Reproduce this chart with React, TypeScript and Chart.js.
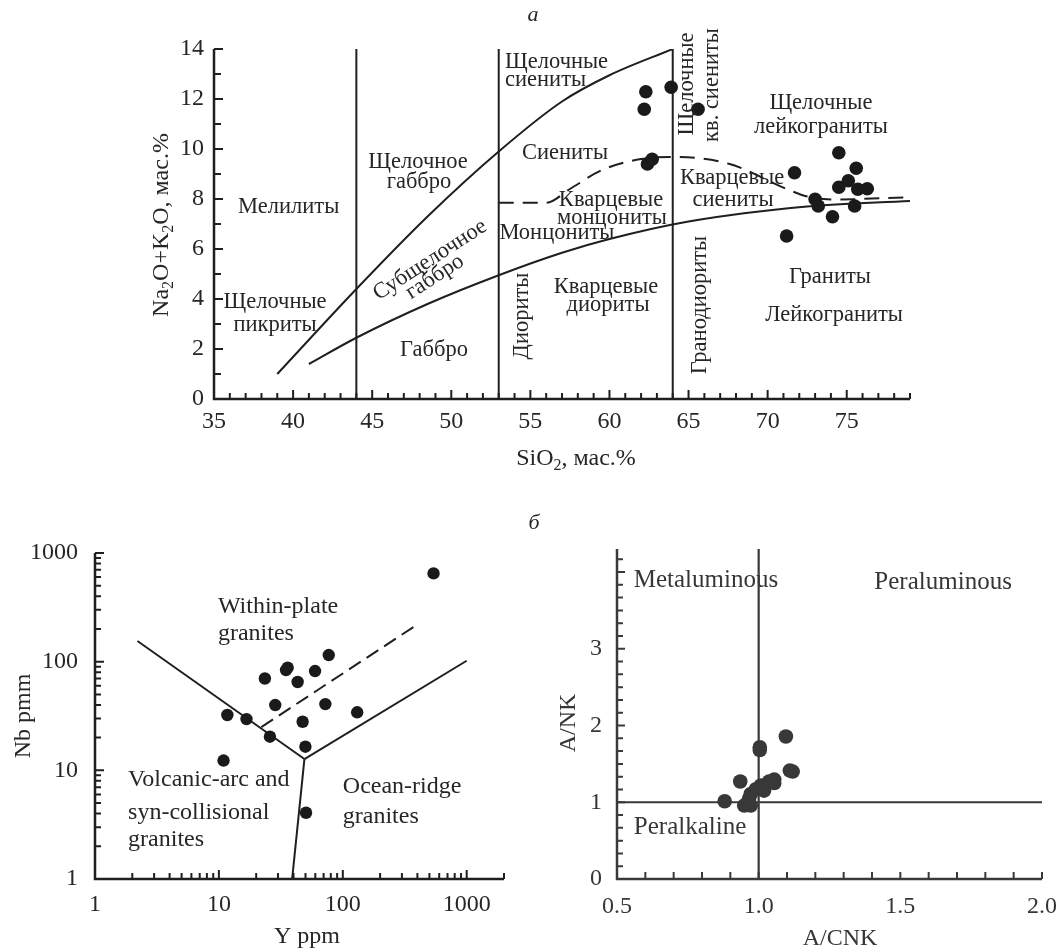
import React, { useEffect, useRef } from "react";
import { Chart, registerables } from "chart.js";

Chart.register(...registerables);

const SERIF = "'Liberation Serif', 'Times New Roman', 'DejaVu Serif', serif";
const INK = "#1f1f1f";
const TEXT = "#262626";

// ---------------- Chart а : TAS (SiO2 vs Na2O+K2O) ----------------
const tasSiO2 = [62.3, 62.2, 63.9, 65.6, 62.7, 62.4, 74.5, 75.6, 71.7, 75.1, 74.5, 75.7, 76.3, 73.0, 73.2, 75.5, 74.1, 71.2];
const tasAlkali = [12.29, 11.59, 12.47, 11.59, 9.59, 9.4, 9.85, 9.23, 9.05, 8.73, 8.47, 8.39, 8.41, 7.99, 7.72, 7.72, 7.29, 6.52];

const alkBoundSiO2 = [39, 44, 48.5, 53, 57, 60, 64];
const alkBoundAlk = [1, 4.4, 7.3, 9.9, 11.9, 12.95, 14];
const subalkBoundSiO2 = [41, 44, 48.5, 53, 57, 60, 65, 72.5, 79];
const subalkBoundAlk = [1.4, 2.45, 3.8, 4.95, 5.85, 6.4, 7.1, 7.7, 7.92];
const quartzBoundSiO2 = [53, 56, 57.5, 59.5, 62, 64, 67.6, 71.2, 72.5, 74, 79];
const quartzBoundAlk = [7.85, 7.85, 8.4, 9.15, 9.6, 9.68, 9.4, 8.4, 8.1, 7.98, 8.07];
const tasDividerSiO2 = [44, 53, 64];
const tasXLabels = [35, 40, 45, 50, 55, 60, 65, 70, 75];
const tasYLabels = [0, 2, 4, 6, 8, 10, 12, 14];

const tasFields = [
  { text: "Мелилиты", x: 39.72, y: 7.69 },
  { text: "Щелочное", x: 47.9, y: 9.48 },
  { text: "габбро", x: 47.96, y: 8.68 },
  { text: "Щелочные", x: 53.4, y: 13.48, align: "left" },
  { text: "сиениты", x: 53.4, y: 12.76, align: "left" },
  { text: "Сиениты", x: 57.19, y: 9.84 },
  { text: "Кварцевые", x: 60.1, y: 7.96 },
  { text: "монцониты", x: 60.16, y: 7.24 },
  { text: "Монцониты", x: 56.68, y: 6.64 },
  { text: "Щелочные", x: 38.86, y: 3.88 },
  { text: "пикриты", x: 38.86, y: 2.96 },
  { text: "Габбро", x: 48.91, y: 1.96 },
  { text: "Диориты", x: 54.47, y: 3.32, rot: -90 },
  { text: "Кварцевые", x: 59.78, y: 4.48 },
  { text: "диориты", x: 59.91, y: 3.76 },
  { text: "Субщелочное", x: 48.66, y: 5.56, rot: -33 },
  { text: "габбро", x: 48.97, y: 4.88, rot: -33 },
  { text: "Щелочные", x: 64.9, y: 12.6, rot: -90 },
  { text: "кв. сиениты", x: 66.48, y: 12.56, rot: -90 },
  { text: "Щелочные", x: 73.37, y: 11.84 },
  { text: "лейкограниты", x: 73.37, y: 10.88 },
  { text: "Кварцевые", x: 67.75, y: 8.84 },
  { text: "сиениты", x: 67.81, y: 7.96 },
  { text: "Гранодиориты", x: 65.72, y: 3.76, rot: -90 },
  { text: "Граниты", x: 73.94, y: 4.88 },
  { text: "Лейкограниты", x: 74.2, y: 3.36 },
];

// ---------------- Chart б (left) : Y vs Nb ----------------
const yPpm = [540, 77, 35.9, 34.8, 59.7, 23.5, 43.2, 28.5, 72.3, 130.6, 11.7, 16.7, 47.4, 25.8, 49.9, 10.9, 50.5];
const nbPpm = [649, 115, 88, 83.6, 82, 70, 65, 39.9, 40.7, 34.2, 32.3, 29.6, 28, 20.4, 16.5, 12.3, 4.07];
const vagWpgY = [2.2, 49];
const vagWpgNb = [155, 12.7];
const orgY = [49, 1000];
const orgNb = [12.7, 102];
const vagOrgY = [49, 39];
const vagOrgNb = [12.7, 1];
const wpgDashY = [22, 385];
const wpgDashNb = [25, 214];
const logLabels = [1, 10, 100, 1000];

const pearceFields = [
  { text: "Within-plate", x: 9.82, y: 318, align: "left" },
  { text: "granites", x: 9.82, y: 179.5, align: "left" },
  { text: "Volcanic-arc and", x: 1.85, y: 8.15, align: "left" },
  { text: "syn-collisional", x: 1.85, y: 4.05, align: "left" },
  { text: "granites", x: 1.85, y: 2.28, align: "left" },
  { text: "Ocean-ridge", x: 100, y: 7.02, align: "left" },
  { text: "granites", x: 100, y: 3.72, align: "left" },
];

// ---------------- Chart б (right) : A/CNK vs A/NK ----------------
const aCnk = [1.096, 1.004, 1.004, 1.11, 1.12, 0.935, 1.055, 1.055, 1.037, 1.008, 1.019, 0.99, 0.972, 0.966, 0.88, 0.949, 0.972];
const aNk = [1.857, 1.717, 1.68, 1.413, 1.4, 1.27, 1.296, 1.25, 1.27, 1.218, 1.152, 1.17, 1.108, 1.043, 1.013, 0.957, 0.957];
const shandVertX = [1, 1];
const shandVertY = [0, 4.3];
const shandHorX = [0.5, 2.0];
const shandHorY = [1, 1];
const shandXLabels = [0.5, 1.0, 1.5, 2.0];
const shandYLabels = [0, 1, 2, 3];

const shandFields = [
  { text: "Metaluminous", x: 0.814, y: 3.885 },
  { text: "Peraluminous", x: 1.651, y: 3.87 },
  { text: "Peralkaline", x: 0.758, y: 0.678 },
];

type Ann = { text: string; x: number; y: number; align?: string; rot?: number };
type Part = { t: string; sub?: boolean };
type TitleSpec = { parts: Part[]; x: number; y: number; rot: number; size: number };

const pts = (xs: number[], ys: number[]) => xs.map((x, i) => ({ x, y: ys[i] }));

function lineDs(xs: number[], ys: number[], dash: number[] = [], curve = false, color = INK, width = 2) {
  return {
    type: "line" as const,
    data: pts(xs, ys),
    borderColor: color,
    borderWidth: width,
    borderDash: dash,
    pointRadius: 0,
    fill: false,
    cubicInterpolationMode: curve ? ("monotone" as const) : ("default" as const),
    tension: 0,
  };
}

function drawRich(ctx: CanvasRenderingContext2D, t: TitleSpec, color: string) {
  ctx.save();
  ctx.translate(t.x, t.y);
  ctx.rotate((t.rot * Math.PI) / 180);
  ctx.fillStyle = color;
  ctx.textBaseline = "alphabetic";
  ctx.textAlign = "left";
  const subSize = Math.round(t.size * 0.68);
  let total = 0;
  for (const p of t.parts) {
    ctx.font = `${p.sub ? subSize : t.size}px ${SERIF}`;
    total += ctx.measureText(p.t).width;
  }
  let cx = -total / 2;
  const base = t.size * 0.33;
  for (const p of t.parts) {
    ctx.font = `${p.sub ? subSize : t.size}px ${SERIF}`;
    ctx.fillText(p.t, cx, base + (p.sub ? t.size * 0.22 : 0));
    cx += ctx.measureText(p.t).width;
  }
  ctx.restore();
}

type Spec = {
  W: number;
  H: number;
  area: { left: number; top: number; right: number; bottom: number };
  x: any;
  y: any;
  xLabels: number[];
  yLabels: number[];
  fmtX: (v: number) => string;
  fmtY: (v: number) => string;
  xMinor: { v: number; len: number }[];
  yMinor: { v: number; len: number }[];
  datasets: any[];
  anns: Ann[];
  annSize: number;
  titles: TitleSpec[];
  tickSize: number;
  xPad: number;
  yPad: number;
  axisColor: string;
  textColor: string;
};

function makeChart(canvas: HTMLCanvasElement, s: Spec) {
  const decor = {
    id: "decor",
    afterDraw(chart: any) {
      const ctx: CanvasRenderingContext2D = chart.ctx;
      const xs = chart.scales.x;
      const ys = chart.scales.y;
      const ca = chart.chartArea;
      ctx.save();
      ctx.strokeStyle = s.axisColor;
      ctx.lineWidth = 2.5;
      ctx.lineJoin = "miter";
      ctx.beginPath();
      ctx.moveTo(ca.left, ca.top);
      ctx.lineTo(ca.left, ca.bottom);
      ctx.lineTo(ca.right, ca.bottom);
      ctx.stroke();
      ctx.lineWidth = 2;
      ctx.beginPath();
      for (const t of s.xMinor) {
        const px = xs.getPixelForValue(t.v);
        ctx.moveTo(px, ca.bottom);
        ctx.lineTo(px, ca.bottom - t.len);
      }
      for (const t of s.yMinor) {
        const py = ys.getPixelForValue(t.v);
        ctx.moveTo(ca.left, py);
        ctx.lineTo(ca.left + t.len, py);
      }
      ctx.stroke();
      ctx.fillStyle = s.textColor;
      for (const a of s.anns) {
        ctx.save();
        ctx.translate(xs.getPixelForValue(a.x), ys.getPixelForValue(a.y));
        ctx.rotate(((a.rot || 0) * Math.PI) / 180);
        ctx.font = `${s.annSize}px ${SERIF}`;
        ctx.textAlign = (a.align || "center") as CanvasTextAlign;
        ctx.textBaseline = "middle";
        ctx.fillText(a.text, 0, 0);
        ctx.restore();
      }
      for (const t of s.titles) drawRich(ctx, t, s.textColor);
      ctx.restore();
    },
  };

  const tickFont = { family: SERIF, size: s.tickSize };
  return new Chart(canvas, {
    type: "scatter",
    data: { datasets: s.datasets },
    options: {
      responsive: false,
      animation: false,
      devicePixelRatio: 1,
      events: [],
      layout: { padding: { left: 0, top: s.area.top, right: s.W - s.area.right, bottom: 0 } },
      plugins: { legend: { display: false }, tooltip: { enabled: false }, title: { display: false } },
      scales: {
        x: {
          ...s.x,
          position: "bottom",
          grid: { display: false, drawTicks: false },
          border: { display: false },
          ticks: {
            font: tickFont,
            color: s.textColor,
            padding: s.xPad,
            autoSkip: false,
            maxRotation: 0,
            minRotation: 0,
            callback: (v: any) => s.fmtX(Number(v)),
          },
          afterBuildTicks: (sc: any) => {
            sc.ticks = s.xLabels.map((v) => ({ value: v }));
          },
          afterFit: (sc: any) => {
            sc.height = s.H - s.area.bottom;
            sc.paddingLeft = 0;
            sc.paddingRight = 0;
          },
        },
        y: {
          ...s.y,
          position: "left",
          grid: { display: false, drawTicks: false },
          border: { display: false },
          ticks: {
            font: tickFont,
            color: s.textColor,
            padding: s.yPad,
            autoSkip: false,
            callback: (v: any) => s.fmtY(Number(v)),
          },
          afterBuildTicks: (sc: any) => {
            sc.ticks = s.yLabels.map((v) => ({ value: v }));
          },
          afterFit: (sc: any) => {
            sc.width = s.area.left;
            sc.paddingTop = 0;
            sc.paddingBottom = 0;
          },
        },
      },
    },
    plugins: [decor],
  } as any);
}

function dots(xs: number[], ys: number[], r: number, color: string) {
  return {
    type: "scatter" as const,
    data: pts(xs, ys),
    pointRadius: r,
    pointBackgroundColor: color,
    pointBorderWidth: 0,
    borderWidth: 0,
    showLine: false,
  };
}

function range(a: number, b: number, step: number) {
  const out: number[] = [];
  for (let i = 0; a + i * step <= b + 1e-9; i++) out.push(+(a + i * step).toFixed(6));
  return out;
}

function logMinor(maxV: number) {
  const out: number[] = [];
  for (let d = 1; d <= 1000; d *= 10) for (let k = 1; k <= 9; k++) if (k * d <= maxV) out.push(k * d);
  return out;
}

function useChart(build: (c: HTMLCanvasElement) => Chart) {
  const ref = useRef<HTMLCanvasElement | null>(null);
  useEffect(() => {
    if (!ref.current) return;
    const ch = build(ref.current);
    return () => ch.destroy();
  }, []);
  return ref;
}

export default function App() {
  const tasRef = useChart((c) => {
    const datasets: any[] = [
      dots(tasSiO2, tasAlkali, 6.8, "#1a1a1a"),
      lineDs(alkBoundSiO2, alkBoundAlk, [], true),
      lineDs(subalkBoundSiO2, subalkBoundAlk, [], true),
      lineDs(quartzBoundSiO2, quartzBoundAlk, [15, 9], true),
      ...tasDividerSiO2.map((x) => lineDs([x, x], [0, 14])),
    ];
    return makeChart(c, {
      W: 1060,
      H: 480,
      area: { left: 214, top: 49, right: 910, bottom: 399 },
      x: { type: "linear", min: 35, max: 79 },
      y: { type: "linear", min: 0, max: 14 },
      xLabels: tasXLabels,
      yLabels: tasYLabels,
      fmtX: (v) => String(v),
      fmtY: (v) => String(v),
      xMinor: range(35, 79, 1).map((v) => ({ v, len: v % 5 === 0 ? 9 : 6 })),
      yMinor: range(0, 14, 1).map((v) => ({ v, len: v % 2 === 0 ? 9 : 7 })),
      datasets,
      anns: tasFields as Ann[],
      annSize: 22.5,
      titles: [
        {
          parts: [{ t: "Na" }, { t: "2", sub: true }, { t: "O+K" }, { t: "2", sub: true }, { t: "O, мас.%" }],
          x: 160,
          y: 225,
          rot: -90,
          size: 24,
        },
        { parts: [{ t: "SiO" }, { t: "2", sub: true }, { t: ", мас.%" }], x: 576, y: 457, rot: 0, size: 24 },
      ],
      tickSize: 24,
      xPad: 8,
      yPad: 10,
      axisColor: INK,
      textColor: TEXT,
    });
  });

  const pearceRef = useChart((c) => {
    const datasets: any[] = [
      dots(yPpm, nbPpm, 6.2, "#1a1a1a"),
      lineDs(vagWpgY, vagWpgNb),
      lineDs(orgY, orgNb),
      lineDs(vagOrgY, vagOrgNb),
      lineDs(wpgDashY, wpgDashNb, [14, 7]),
    ];
    return makeChart(c, {
      W: 540,
      H: 471,
      area: { left: 95, top: 73, right: 504, bottom: 399 },
      x: { type: "logarithmic", min: 1, max: 2000 },
      y: { type: "logarithmic", min: 1, max: 1000 },
      xLabels: logLabels,
      yLabels: logLabels,
      fmtX: (v) => String(v),
      fmtY: (v) => String(v),
      xMinor: logMinor(2000).map((v) => ({ v, len: logLabels.includes(v) ? 9 : 6 })),
      yMinor: logMinor(1000).map((v) => ({ v, len: logLabels.includes(v) ? 9 : 6 })),
      datasets,
      anns: pearceFields as Ann[],
      annSize: 24,
      titles: [
        { parts: [{ t: "Nb pmm" }], x: 22, y: 236, rot: -90, size: 24 },
        { parts: [{ t: "Y ppm" }], x: 307, y: 455, rot: 0, size: 24 },
      ],
      tickSize: 24,
      xPad: 11,
      yPad: 17,
      axisColor: INK,
      textColor: TEXT,
    });
  });

  const shandRef = useChart((c) => {
    const col = "#383838";
    const datasets: any[] = [
      dots(aCnk, aNk, 7.3, col),
      lineDs(shandVertX, shandVertY, [], false, col, 2.2),
      lineDs(shandHorX, shandHorY, [], false, col, 2),
    ];
    return makeChart(c, {
      W: 520,
      H: 471,
      area: { left: 77, top: 69, right: 502, bottom: 399 },
      x: { type: "linear", min: 0.5, max: 2.0 },
      y: { type: "linear", min: 0, max: 4.3 },
      xLabels: shandXLabels,
      yLabels: shandYLabels,
      fmtX: (v) => v.toFixed(1),
      fmtY: (v) => String(v),
      xMinor: range(0.5, 2.0, 0.1).map((v) => ({ v, len: 7 })),
      yMinor: range(0, 25, 1).map((k) => ({ v: k / 6, len: k % 6 === 0 ? 8 : 6 })),
      datasets,
      anns: shandFields as Ann[],
      annSize: 25,
      titles: [
        { parts: [{ t: "A/NK" }], x: 27, y: 243, rot: -90, size: 24 },
        { parts: [{ t: "A/CNK" }], x: 300, y: 457, rot: 0, size: 24 },
      ],
      tickSize: 24,
      xPad: 13,
      yPad: 15,
      axisColor: "#3a3a3a",
      textColor: "#363636",
    });
  });

  const letter: React.CSSProperties = {
    position: "absolute",
    fontFamily: SERIF,
    fontStyle: "italic",
    fontSize: 22,
    color: TEXT,
    lineHeight: "22px",
    transform: "translate(-50%, -50%)",
  };

  return (
    <div style={{ position: "absolute", left: 0, top: 0, width: 1060, height: 951, background: "#fff", overflow: "hidden" }}>
      <canvas ref={tasRef} width={1060} height={480} style={{ position: "absolute", left: 0, top: 0, width: 1060, height: 480 }} />
      <canvas ref={pearceRef} width={540} height={471} style={{ position: "absolute", left: 0, top: 480, width: 540, height: 471 }} />
      <canvas ref={shandRef} width={520} height={471} style={{ position: "absolute", left: 540, top: 480, width: 520, height: 471 }} />
      <div style={{ ...letter, left: 533, top: 14 }}>а</div>
      <div style={{ ...letter, left: 534, top: 522 }}>б</div>
    </div>
  );
}
